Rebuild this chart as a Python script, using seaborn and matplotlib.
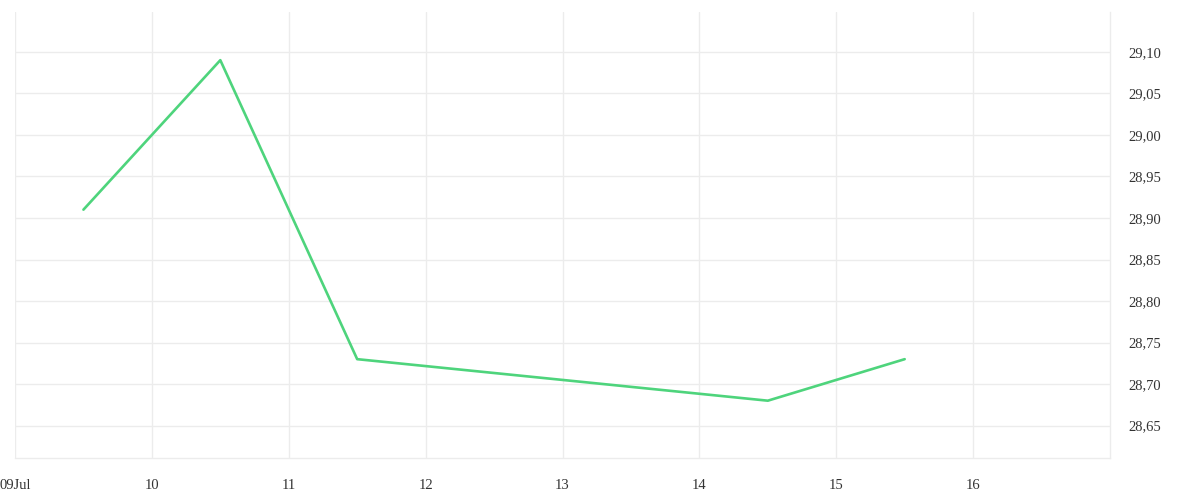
import matplotlib
matplotlib.use("Agg")
import matplotlib.pyplot as plt
import matplotlib.dates as mdates
import matplotlib.ticker as mticker
import seaborn as sns
import pandas as pd

# --- data ---
dates = ["2024-07-09 12:00", "2024-07-10 12:00", "2024-07-11 12:00",
         "2024-07-14 12:00", "2024-07-15 12:00"]
prices = [28.91, 29.09, 28.73, 28.68, 28.73]

df = pd.DataFrame({"date": pd.to_datetime(dates), "price": prices})

grid_col = "#ececec"
text_col = "#333333"

sns.set_theme(style="white")
plt.rcParams["font.family"] = ["Liberation Serif", "DejaVu Serif"]

fig = plt.figure(figsize=(12, 5), dpi=100)
ax = fig.add_axes([0.0125, 0.084, 0.9125, 0.892])

sns.lineplot(data=df, x="date", y="price", ax=ax, color="#4ed47c", linewidth=1.9)

ax.set_xlim(pd.Timestamp("2024-07-09"), pd.Timestamp("2024-07-17"))
ax.set_ylim(28.611, 29.148)

# x axis: one tick per day, first labelled with the month
ax.xaxis.set_major_locator(mdates.DayLocator())
def day_fmt(x, pos):
    d = mdates.num2date(x)
    return d.strftime("%d%b") if d.day == 9 else str(d.day)
ax.xaxis.set_major_formatter(mticker.FuncFormatter(day_fmt))
ticks = ax.get_xticks()
ax.set_xticks(ticks[:-1])

# y axis on the right, comma decimals
ax.yaxis.tick_right()
ax.yaxis.set_major_locator(mticker.MultipleLocator(0.05))
ax.yaxis.set_major_formatter(mticker.FuncFormatter(lambda v, p: f"{v:.2f}".replace(".", ",")))

ax.grid(True, color=grid_col, linewidth=1)
ax.tick_params(axis="x", length=6, color=grid_col, width=1, pad=9,
               labelsize=10.5, labelcolor=text_col)
ax.tick_params(axis="y", length=0, pad=13, labelsize=10.5, labelcolor=text_col)

for s in ["top", "left"]:
    ax.spines[s].set_visible(False)
for s in ["bottom", "right"]:
    ax.spines[s].set_color(grid_col)
    ax.spines[s].set_linewidth(1)

ax.set_xlabel("")
ax.set_ylabel("")

fig.savefig("out.png", dpi=100)
